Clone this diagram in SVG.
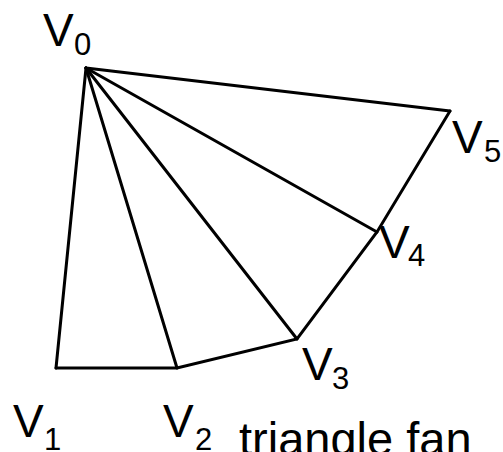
<svg xmlns="http://www.w3.org/2000/svg" width="503" height="452" viewBox="0 0 503 452">
<style>
.e{stroke:#000;stroke-width:3;fill:none;stroke-linejoin:miter;stroke-linecap:round}
.v{font-family:"Liberation Sans",Arial,sans-serif;font-size:46px;fill:#000}
.s{font-family:"Liberation Sans",Arial,sans-serif;font-size:31px;fill:#000}
.t{font-family:"Liberation Sans",Arial,sans-serif;font-size:47px;fill:#000}
</style>
<rect width="503" height="452" fill="#fff"/>
<g id="connectors">
<line class="e" x1="86" y1="68" x2="56" y2="368"/>
<line class="e" x1="86" y1="68" x2="177" y2="368"/>
<line class="e" x1="86" y1="68" x2="297" y2="339"/>
<line class="e" x1="86" y1="68" x2="377" y2="232"/>
<line class="e" x1="86" y1="68" x2="450" y2="111"/>
<polyline class="e" points="56,368 177,368 297,339 377,232 450,111"/>
</g>
<g id="v0"><text class="v" x="43" y="46">V</text><text class="s" x="74" y="55">0</text></g>
<g id="v1"><text class="v" x="13" y="437">V</text><text class="s" x="44" y="450">1</text></g>
<g id="v2"><text class="v" x="163" y="437">V</text><text class="s" x="195" y="450">2</text></g>
<g id="v3"><text class="v" x="302" y="380">V</text><text class="s" x="332" y="389">3</text></g>
<g id="v4"><text class="v" x="379" y="258">V</text><text class="s" x="408" y="266">4</text></g>
<g id="v5"><text class="v" x="452" y="153">V</text><text class="s" x="484" y="162">5</text></g>
<g id="caption"><text class="t" x="239" y="455">triangle fan</text></g>
</svg>
